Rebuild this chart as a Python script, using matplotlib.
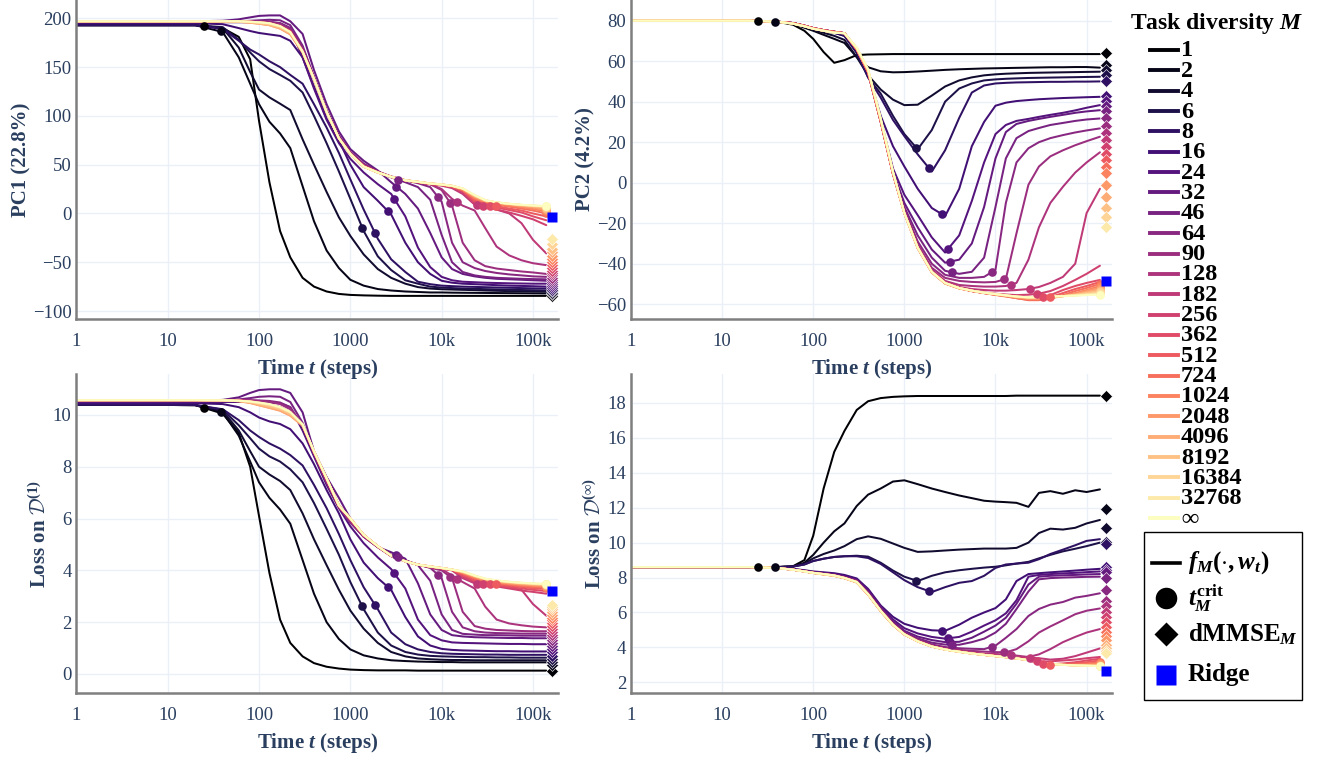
import numpy as np
import matplotlib
matplotlib.use("Agg")
import matplotlib.pyplot as plt
from matplotlib.lines import Line2D
from matplotlib.patches import Rectangle
from matplotlib.ticker import NullLocator

# ---------------------------------------------------------------------------
# Data
# ---------------------------------------------------------------------------
steps = [1, 20, 40, 60, 80, 100, 130, 170, 220, 300, 400, 550, 750, 1000, 1400,
         2000, 2800, 4000, 5500, 7500, 10000, 13000, 17000, 23000, 30000, 40000,
         55000, 75000, 100000, 140000]

labels = ["1", "2", "4", "6", "8", "16", "24", "32", "46", "64", "90", "128",
          "182", "256", "362", "512", "724", "1024", "2048", "4096", "8192",
          "16384", "32768", "∞"]

# critical time t_M^crit for each task diversity (nan = none)
t_crit = [25, 38, np.nan, 1350, 1870, 2560, 3030, 3200, 3330, 9100, 12400, 14700,
          24100, 28300, 33500, 39500, 140000, 140000, 140000, 140000, 140000,
          140000, 140000, 140000]

dmmse_step = 162000
ridge_step = 162000

# PC1 projection, one row per task diversity M (last row: M = inf)
pc1 = [
    [193, 193, 190, 181, 158, 95, 32, -18, -45, -66, -75, -80, -82.5, -83.5, -84, -84.3, -84.5, -84.5, -84.5, -84.5, -84.5, -84.5, -84.5, -84.5, -84.5, -84.5, -84.5, -84.5, -84.5, -84.5],
    [193, 193, 186, 160, 133, 112, 94, 82, 67, 28, -8, -38, -56, -68, -74, -77.5, -79, -80, -80.5, -81, -81, -81.2, -81.3, -81.4, -81.5, -81.6, -81.7, -81.8, -81.9, -82],
    [193, 193, 190, 170, 145, 127, 119, 112.5, 106, 76, 50, 22, -4, -23, -42, -57, -66, -72, -75.5, -77, -77.7, -78, -78.3, -78.6, -79, -79.3, -79.6, -79.8, -80, -80.2],
    [193, 193, 191, 178, 165, 156, 148, 142, 136, 124, 100, 72, 43, 15, -18, -44, -58, -68.5, -72, -75, -76, -76.5, -77, -77.3, -77.6, -77.9, -78.2, -78.5, -78.7, -79],
    [193, 193, 189, 177, 168, 163, 156, 150, 142, 133, 112, 88, 62, 35, 4, -26, -47, -60, -70, -72.5, -74, -74.5, -75, -75.3, -75.6, -75.9, -76.2, -76.5, -76.8, -77],
    [195, 195, 194, 190, 187, 185, 183.5, 182, 177, 160, 130, 97, 75, 50, 27, 13, -1, -30, -50, -62, -69, -71, -72, -72.5, -73, -73.5, -74, -74.3, -74.6, -75],
    [196, 196, 196, 196, 196, 196, 196, 195, 190, 160, 128, 96, 72, 56, 42, 30, 20, -3, -35, -55, -65, -68.5, -70, -70.5, -71, -71.3, -71.6, -71.8, -72, -72],
    [197, 197, 197.5, 199, 201, 202.5, 203, 203, 197, 184, 147, 112, 84, 66, 54, 44, 32, 20, 5, -20, -45, -57, -62, -64.5, -66, -67, -67.5, -68, -68.5, -69],
    [197, 197, 197, 197, 197.5, 198, 198.5, 198, 193, 172, 140, 106, 80, 63, 51, 43, 37, 32, 27, 14, -22, -50, -60, -63.5, -65, -66, -66.5, -67, -67.3, -67.5],
    [197, 197, 197, 197, 197, 197, 196.5, 195, 190, 170, 140, 105, 79, 63, 50.5, 43, 38, 34, 31, 27, 12, -30, -50, -56, -59, -61, -62.5, -63.5, -64.5, -65],
    [197, 197, 197, 197, 197, 196.5, 196, 194, 188, 168, 139, 104, 78, 62, 49.5, 42.5, 37.5, 34, 32, 30, 24, 8, -30, -48, -54, -56.5, -58, -59.5, -60.5, -62],
    [197, 197, 197, 197, 196.5, 196, 195, 192.5, 187, 167, 138.5, 104, 77.5, 61.5, 49, 42.5, 37.5, 34, 32, 30, 25, 15, 8, 3, -15, -34, -43, -48, -51, -53],
    [197, 197, 197, 197, 196.5, 196, 195, 192.5, 187, 167, 138.5, 104, 77.5, 61.5, 49, 42.3, 37.5, 34, 32, 30, 28.5, 26, 20, 9, 6, 4, 0, -10, -27, -41],
    [197, 197, 197, 197, 196.5, 196, 195, 192, 186.5, 166.5, 138, 104, 77.5, 61.5, 48.5, 42.2, 37.5, 34, 32, 30.2, 29, 27, 22, 10, 6.5, 4, 1, -2.5, -6, -12],
    [197, 197, 197, 197, 196.5, 196, 195, 192, 186.5, 166.5, 138, 104, 77.5, 61, 48.5, 42.2, 37.5, 34, 32.2, 30.4, 29.2, 27.3, 23, 12, 8, 6, 3.5, 1, -3, -7],
    [197, 197, 197, 197, 196.5, 196, 195, 192, 186, 166, 138, 104, 77, 61, 48, 42, 37.5, 34, 32.3, 30.5, 29.4, 27.6, 23.5, 13.5, 9.5, 7.5, 5, 3, 0, -3],
    [197, 197, 197, 197, 196.5, 195.5, 194, 191, 185, 165.5, 137.5, 104, 77, 61, 48, 42, 37.5, 34, 32.4, 30.6, 29.5, 28, 24, 15, 11, 9, 7, 5, 3, 0],
    [197, 197, 197, 197, 196, 195, 193.5, 190, 184, 165, 137.5, 104, 77, 61, 48, 42, 37.5, 34, 32.4, 30.7, 29.6, 28.1, 24.5, 16, 12, 10, 8, 6.5, 4.5, 2],
    [197, 197, 197, 196.5, 195.5, 194.5, 193, 189.5, 183.5, 165, 137.5, 104, 77, 61, 48, 42, 37.5, 34, 32.4, 30.7, 29.7, 28.2, 25, 17, 12.5, 10.5, 9, 7.5, 6, 3.5],
    [197, 197, 197, 196.5, 195.5, 194.5, 193, 189.5, 184, 165.5, 138, 104, 77, 61, 48, 42, 37.5, 34, 32.4, 30.7, 29.7, 28.3, 25, 17.5, 13, 11, 9.5, 8, 7, 5],
    [197, 197, 197, 196.8, 196, 195, 193.5, 190.5, 185, 166, 138, 104, 77, 61, 48, 42, 37.5, 34, 32.4, 30.7, 29.7, 28.3, 25.5, 18, 13.3, 11.2, 9.7, 8.5, 7.5, 6],
    [197, 197, 197, 197, 196.3, 195.5, 194.5, 191.5, 185.5, 166, 138, 104, 77, 61, 48, 42, 37.5, 34, 32.4, 30.7, 29.7, 28.3, 25.5, 18.5, 13.5, 11.3, 9.8, 8.7, 8, 7],
    [197, 197, 197, 197, 196.5, 196, 195, 192, 186, 166, 138, 104, 77, 61, 48, 42, 37.5, 34, 32.4, 30.7, 29.7, 28.3, 25.6, 18.7, 13.6, 11.3, 9.9, 8.8, 8.1, 7.3],
    [197, 197, 197, 197, 196.5, 196, 195, 192, 186, 166, 138, 104, 77, 61, 48, 42, 37.5, 34, 32.4, 30.7, 29.7, 28.3, 25.6, 18.8, 13.6, 11.3, 9.9, 8.9, 8.2, 7.5],
]
pc1_dmmse = [-85, -83, -81.5, -80, -78.5, -76.5, -74.5, -72.5, -70.5, -68.5, -66, -63.5, -61, -58.5, -56, -53, -50, -47, -44, -40, -36, -31, -26]

# PC2 projection
pc2 = [
    [80, 80, 79.5, 78, 75, 71, 64.5, 59.2, 60.5, 63, 63.3, 63.4, 63.5, 63.5, 63.5, 63.5, 63.5, 63.5, 63.5, 63.5, 63.5, 63.5, 63.5, 63.5, 63.5, 63.5, 63.5, 63.5, 63.5, 63.5],
    [80, 80, 79.5, 78.5, 76.5, 75, 73, 71, 69, 62, 57, 55, 54.5, 54.6, 54.9, 55.3, 55.7, 56, 56.2, 56.4, 56.5, 56.6, 56.7, 56.8, 56.9, 57, 57, 57.1, 57.1, 56.8],
    [80, 80, 79.5, 78.5, 77, 75.5, 74, 72.5, 70.5, 62, 53, 46, 41, 38.3, 38.5, 43, 47.5, 50.5, 52, 53, 53.5, 53.8, 54, 54.2, 54.3, 54.4, 54.5, 54.6, 54.7, 54.8],
    [80, 80, 79.5, 78.8, 77.5, 76, 75, 74, 72.5, 64, 52, 44, 33, 24, 16.5, 26, 40, 46.5, 49, 50.5, 51, 51.3, 51.5, 51.7, 51.8, 51.9, 52, 52.1, 52.2, 52.3],
    [80, 80, 79.5, 78.8, 77.5, 76, 75, 74, 72.5, 64.5, 52, 42, 31, 23, 14, 5.5, 16, 32, 44.5, 48, 49, 49.3, 49.5, 49.6, 49.7, 49.8, 49.8, 49.9, 49.9, 50],
    [80, 80, 79.5, 78.8, 77.5, 76.3, 75.3, 74.5, 73.5, 65.5, 54, 33, 18, 8, -3, -12.5, -16.5, -3, 18, 30, 38, 39.5, 40.3, 40.8, 41.2, 41.5, 41.8, 42, 42.2, 42.4],
    [80, 80, 79.5, 78.8, 77.5, 76.3, 75.3, 74.5, 73.8, 65.8, 54.5, 31, 7, -6, -16, -27, -34.5, -26, -9, 10, 24, 28.5, 30.5, 31.5, 32.5, 33.5, 34.5, 35.7, 37, 38.3],
    [80, 80, 79.5, 78.8, 77.5, 76.3, 75.3, 74.5, 73.8, 65.8, 54.5, 30.5, 5.5, -10, -22, -33, -39.5, -38, -30, -12, 12, 25, 29, 30.5, 31.5, 32.5, 33.5, 34.5, 35.2, 35.8],
    [80, 80, 79.5, 78.8, 77.5, 76.3, 75.3, 74.5, 73.8, 65.8, 54.5, 30.5, 5, -12, -26, -37, -43.5, -45, -44, -37, -12, 12, 22, 25.5, 27, 28.5, 29.5, 30.5, 31.2, 31.7],
    [80, 80, 79.5, 78.8, 77.5, 76.3, 75.3, 74.5, 73.8, 65.8, 54.5, 30.5, 4.5, -13, -29, -40, -45.5, -47, -47, -46.5, -43, -10, 10, 17, 20, 22, 23.5, 24.8, 25.8, 26.8],
    [80, 80, 79.5, 78.8, 77.5, 76.3, 75.3, 74.5, 73.8, 65.8, 54.5, 30.3, 4.5, -14, -30.5, -42, -47, -48.5, -49, -49.2, -49, -47.5, -25, -1, 8, 13, 16, 18.5, 20.5, 22.7],
    [80, 80, 79.5, 78.8, 77.5, 76.3, 75.3, 74.5, 73.8, 65.8, 54.5, 30.3, 4.5, -14.5, -31, -43, -48.5, -50.5, -51, -51.3, -51.3, -51, -49.5, -38, -22, -10, -2, 5, 10, 15],
    [80, 80, 79.5, 78.8, 77.5, 76.3, 75.3, 74.5, 73.8, 65.8, 54.5, 30.2, 4.5, -14.5, -31.5, -43.5, -49, -51.5, -52.5, -53, -53.3, -53.3, -53, -52.5, -51.5, -49.5, -46.5, -40, -15, -3],
    [80, 80, 79.5, 78.8, 77.5, 76.3, 75.3, 74.5, 73.8, 65.8, 54.5, 30.2, 4.5, -15, -32, -44, -49.5, -52, -53.5, -54.3, -54.8, -55.2, -55.5, -55.3, -54.8, -53.5, -51, -48, -45, -41],
    [80, 80, 79.5, 78.8, 77.5, 76.3, 75.3, 74.5, 73.8, 65.8, 54.5, 30.1, 4.3, -15, -32, -44, -49.5, -52, -53.5, -54.5, -55.2, -55.8, -56.5, -57.5, -57, -55.5, -53, -51, -49.5, -48],
    [80, 80, 79.5, 78.8, 77.5, 76.3, 75.3, 74.5, 73.8, 65.8, 54.5, 30.1, 4.3, -15, -32, -44, -49.5, -52, -53.5, -54.5, -55.3, -56, -57, -57.8, -57.5, -56.5, -54.5, -52.5, -51, -49],
    [80, 80, 79.5, 78.7, 77.4, 76.2, 75.2, 74.4, 73.8, 65.9, 54.7, 30.5, 4.5, -15, -32.2, -44.2, -49.7, -52.2, -53.5, -54.5, -55.4, -56.2, -57, -58, -58, -57, -55.5, -53.5, -52, -50],
    [80, 80, 79.5, 78.6, 77.3, 76.1, 75.1, 74.3, 73.8, 66, 55, 30.8, 4.7, -15, -32.3, -44.3, -49.8, -52.2, -53.4, -54.4, -55.3, -56, -56.8, -57.5, -57.5, -57, -56, -54.5, -53, -51],
    [80, 80, 79.5, 78.6, 77.3, 76, 75, 74.2, 73.8, 66.2, 55.3, 31, 4.8, -15, -32.3, -44.3, -49.8, -52.2, -53.3, -54.3, -55.2, -55.9, -56.6, -57.2, -57.2, -56.8, -56, -55, -53.5, -52],
    [80, 80, 79.5, 78.6, 77.3, 76, 75, 74.2, 73.8, 66.3, 55.5, 31.2, 5, -15, -32.2, -44.2, -49.7, -52.1, -53.3, -54.3, -55.1, -55.8, -56.4, -57, -57, -56.6, -56, -55.2, -54, -52.8],
    [80, 80, 79.5, 78.5, 77.2, 76, 75, 74.1, 73.8, 66.4, 55.7, 31.4, 5.2, -15, -32.1, -44.1, -49.6, -52, -53.3, -54.3, -55, -55.7, -56.3, -56.8, -56.8, -56.4, -56, -55.4, -54.5, -53.5],
    [80, 80, 79.5, 78.5, 77.2, 76, 75, 74.1, 73.8, 66.5, 55.8, 31.5, 5.3, -15, -32, -44, -49.5, -52, -53.3, -54.3, -55, -55.6, -56.2, -56.7, -56.6, -56.3, -56, -55.6, -55, -54.2],
    [80, 80, 79.5, 78.5, 77.2, 76, 75, 74, 73.8, 66.6, 55.9, 31.6, 5.4, -15, -32, -44, -49.5, -52, -53.3, -54.3, -55, -55.6, -56.2, -56.6, -56.5, -56.2, -56, -55.7, -55.3, -54.8],
    [80, 80, 79.5, 78.5, 77.2, 76, 75, 74, 73.8, 66.7, 56, 31.8, 5.5, -15, -32, -44, -49.5, -52, -53.3, -54.3, -55, -55.6, -56.2, -56.6, -56.5, -56.2, -56, -55.8, -55.5, -55.3],
]
pc2_dmmse = [63.8, 58, 55.6, 53.1, 50.3, 42.8, 40.3, 37.8, 35.4, 32.1, 28, 24.7, 21, 17.8, 14.1, 11.2, 7.9, 4.6, -1.2, -6.9, -12.7, -17.1, -22]

# Loss on D^(1)
loss_d1 = [
    [10.4, 10.38, 10.05, 9.3, 8.0, 6.1, 3.9, 2.1, 1.2, 0.68, 0.42, 0.28, 0.21, 0.17, 0.15, 0.14, 0.14, 0.14, 0.13, 0.13, 0.13, 0.13, 0.13, 0.13, 0.13, 0.13, 0.13, 0.13, 0.13, 0.13],
    [10.4, 10.38, 10.1, 9.2, 8.2, 7.4, 6.8, 6.35, 5.8, 4.4, 3.1, 2.0, 1.35, 0.95, 0.72, 0.6, 0.53, 0.5, 0.48, 0.47, 0.46, 0.46, 0.45, 0.45, 0.45, 0.45, 0.45, 0.45, 0.45, 0.45],
    [10.4, 10.38, 10.15, 9.4, 8.6, 8.0, 7.7, 7.45, 7.1, 6.2, 5.2, 4.2, 3.25, 2.45, 1.75, 1.2, 0.85, 0.68, 0.6, 0.57, 0.55, 0.54, 0.54, 0.53, 0.53, 0.53, 0.53, 0.53, 0.53, 0.53],
    [10.4, 10.38, 10.2, 9.6, 9.1, 8.7, 8.4, 8.2, 7.9, 7.4, 6.6, 5.6, 4.6, 3.55, 2.5, 1.6, 1.1, 0.85, 0.75, 0.7, 0.68, 0.67, 0.66, 0.65, 0.65, 0.64, 0.64, 0.63, 0.63, 0.63],
    [10.4, 10.38, 10.22, 9.8, 9.4, 9.15, 8.9, 8.7, 8.45, 8.05, 7.3, 6.4, 5.4, 4.4, 3.35, 2.5, 1.6, 1.15, 0.95, 0.85, 0.8, 0.78, 0.77, 0.76, 0.75, 0.75, 0.74, 0.74, 0.74, 0.74],
    [10.45, 10.45, 10.42, 10.3, 10.1, 9.9, 9.75, 9.65, 9.45, 8.9, 8.1, 7.1, 6.2, 5.2, 4.3, 3.7, 3.25, 2.2, 1.45, 1.1, 0.97, 0.93, 0.91, 0.9, 0.89, 0.88, 0.88, 0.87, 0.87, 0.87],
    [10.5, 10.5, 10.5, 10.5, 10.5, 10.5, 10.48, 10.45, 10.3, 9.4, 8.4, 7.3, 6.4, 5.7, 5.05, 4.5, 4.05, 3.3, 2.1, 1.5, 1.3, 1.22, 1.2, 1.19, 1.18, 1.17, 1.16, 1.16, 1.15, 1.15],
    [10.55, 10.55, 10.58, 10.68, 10.85, 10.96, 10.99, 10.99, 10.85, 10.1, 8.6, 7.6, 6.8, 6.0, 5.35, 4.9, 4.7, 4.45, 3.5, 2.3, 1.7, 1.5, 1.45, 1.42, 1.41, 1.4, 1.39, 1.39, 1.38, 1.38],
    [10.57, 10.57, 10.57, 10.6, 10.65, 10.7, 10.72, 10.7, 10.5, 9.7, 8.5, 7.4, 6.5, 5.85, 5.3, 4.9, 4.6, 4.4, 4.2, 3.6, 2.3, 1.7, 1.55, 1.52, 1.5, 1.5, 1.49, 1.48, 1.48, 1.48],
    [10.57, 10.57, 10.57, 10.57, 10.57, 10.56, 10.54, 10.48, 10.3, 9.6, 8.5, 7.4, 6.45, 5.85, 5.3, 4.9, 4.57, 4.37, 4.23, 4.1, 3.7, 2.4, 1.8, 1.65, 1.6, 1.58, 1.57, 1.56, 1.56, 1.56],
    [10.57, 10.57, 10.57, 10.57, 10.56, 10.54, 10.5, 10.42, 10.22, 9.62, 8.55, 7.45, 6.45, 5.9, 5.3, 4.9, 4.55, 4.35, 4.22, 4.1, 4.0, 3.7, 2.4, 1.85, 1.75, 1.7, 1.68, 1.66, 1.65, 1.65],
    [10.57, 10.57, 10.57, 10.56, 10.53, 10.48, 10.4, 10.3, 10.1, 9.6, 8.55, 7.5, 6.45, 5.95, 5.33, 4.9, 4.55, 4.35, 4.22, 4.12, 4.05, 3.8, 3.55, 3.3, 2.6, 2.1, 1.95, 1.88, 1.83, 1.8],
    [10.57, 10.57, 10.57, 10.56, 10.53, 10.48, 10.4, 10.3, 10.1, 9.6, 8.56, 7.5, 6.47, 5.97, 5.35, 4.92, 4.56, 4.35, 4.22, 4.13, 4.07, 4.0, 3.7, 3.5, 3.45, 3.4, 3.35, 3.25, 2.7, 2.25],
    [10.57, 10.57, 10.57, 10.56, 10.53, 10.47, 10.39, 10.28, 10.08, 9.6, 8.57, 7.52, 6.48, 5.98, 5.36, 4.92, 4.56, 4.35, 4.22, 4.14, 4.08, 4.01, 3.75, 3.55, 3.45, 3.38, 3.3, 3.22, 3.17, 3.1],
    [10.57, 10.57, 10.57, 10.56, 10.52, 10.46, 10.38, 10.27, 10.07, 9.61, 8.58, 7.53, 6.49, 5.99, 5.36, 4.93, 4.57, 4.35, 4.22, 4.14, 4.08, 4.02, 3.8, 3.6, 3.5, 3.42, 3.36, 3.3, 3.25, 3.2],
    [10.57, 10.57, 10.57, 10.55, 10.51, 10.45, 10.37, 10.26, 10.06, 9.62, 8.58, 7.54, 6.5, 6.0, 5.37, 4.93, 4.57, 4.35, 4.22, 4.15, 4.08, 4.02, 3.85, 3.65, 3.53, 3.46, 3.41, 3.36, 3.31, 3.28],
    [10.57, 10.57, 10.57, 10.55, 10.5, 10.43, 10.35, 10.24, 10.05, 9.62, 8.59, 7.55, 6.5, 6.0, 5.37, 4.93, 4.57, 4.35, 4.22, 4.15, 4.09, 4.03, 3.88, 3.7, 3.57, 3.5, 3.45, 3.4, 3.36, 3.33],
    [10.57, 10.57, 10.56, 10.54, 10.48, 10.4, 10.3, 10.2, 10.0, 9.6, 8.58, 7.55, 6.5, 6.0, 5.37, 4.93, 4.57, 4.35, 4.22, 4.15, 4.09, 4.03, 3.9, 3.73, 3.6, 3.53, 3.48, 3.43, 3.4, 3.37],
    [10.57, 10.57, 10.56, 10.53, 10.46, 10.37, 10.27, 10.16, 9.97, 9.58, 8.57, 7.55, 6.5, 6.0, 5.37, 4.93, 4.57, 4.35, 4.22, 4.15, 4.09, 4.03, 3.92, 3.75, 3.63, 3.56, 3.5, 3.46, 3.43, 3.4],
    [10.57, 10.57, 10.56, 10.53, 10.47, 10.38, 10.28, 10.18, 9.98, 9.6, 8.58, 7.55, 6.5, 6.0, 5.37, 4.93, 4.57, 4.35, 4.22, 4.15, 4.09, 4.03, 3.93, 3.77, 3.65, 3.58, 3.52, 3.48, 3.45, 3.42],
    [10.57, 10.57, 10.56, 10.54, 10.49, 10.42, 10.33, 10.22, 10.03, 9.62, 8.59, 7.55, 6.5, 6.0, 5.37, 4.93, 4.57, 4.35, 4.22, 4.15, 4.09, 4.03, 3.94, 3.78, 3.66, 3.59, 3.54, 3.5, 3.47, 3.44],
    [10.57, 10.57, 10.57, 10.55, 10.51, 10.45, 10.38, 10.27, 10.08, 9.63, 8.6, 7.55, 6.5, 6.0, 5.37, 4.93, 4.57, 4.35, 4.22, 4.15, 4.09, 4.03, 3.95, 3.79, 3.67, 3.6, 3.55, 3.51, 3.48, 3.46],
    [10.57, 10.57, 10.57, 10.55, 10.52, 10.47, 10.41, 10.3, 10.11, 9.64, 8.6, 7.55, 6.5, 6.0, 5.37, 4.93, 4.57, 4.35, 4.22, 4.15, 4.09, 4.03, 3.96, 3.8, 3.68, 3.61, 3.56, 3.52, 3.49, 3.47],
    [10.57, 10.57, 10.56, 10.55, 10.52, 10.48, 10.42, 10.3, 10.12, 9.64, 8.6, 7.55, 6.5, 6.0, 5.37, 4.93, 4.57, 4.35, 4.22, 4.15, 4.09, 4.03, 3.96, 3.8, 3.68, 3.61, 3.56, 3.52, 3.5, 3.48],
]
loss_d1_dmmse = [0.12, 0.35, 0.47, 0.58, 0.7, 0.85, 0.97, 1.08, 1.19, 1.3, 1.41, 1.52, 1.63, 1.74, 1.85, 1.96, 2.07, 2.18, 2.29, 2.4, 2.5, 2.6, 2.68]

# Loss on D^(inf)
loss_dinf = [
    [8.6, 8.6, 8.6, 8.65, 9.0, 10.4, 13.1, 15.2, 16.4, 17.6, 18.1, 18.28, 18.35, 18.38, 18.4, 18.4, 18.4, 18.4, 18.4, 18.4, 18.4, 18.4, 18.42, 18.42, 18.42, 18.42, 18.42, 18.42, 18.42, 18.42],
    [8.6, 8.6, 8.6, 8.63, 8.85, 9.3, 10.0, 10.65, 11.1, 12.1, 12.75, 13.1, 13.5, 13.57, 13.35, 13.1, 12.9, 12.7, 12.55, 12.4, 12.35, 12.32, 12.28, 12.05, 12.85, 12.95, 12.8, 13.0, 12.9, 13.05],
    [8.6, 8.6, 8.6, 8.63, 8.8, 9.1, 9.35, 9.55, 9.8, 10.2, 10.36, 10.22, 9.95, 9.7, 9.47, 9.5, 9.55, 9.6, 9.63, 9.66, 9.66, 9.66, 9.7, 10.0, 10.55, 10.8, 10.75, 10.85, 11.1, 11.3],
    [8.6, 8.6, 8.6, 8.63, 8.75, 8.95, 9.08, 9.18, 9.22, 9.25, 9.2, 8.85, 8.4, 8.05, 7.8, 8.1, 8.3, 8.42, 8.5, 8.57, 8.62, 8.7, 8.8, 8.9, 9.1, 9.3, 9.5, 9.65, 9.8, 10.0],
    [8.6, 8.6, 8.6, 8.63, 8.75, 8.95, 9.08, 9.18, 9.22, 9.22, 9.12, 8.78, 8.3, 7.85, 7.45, 7.17, 7.45, 7.7, 7.8, 8.1, 8.55, 8.75, 8.8, 8.85, 9.05, 9.35, 9.6, 9.85, 10.1, 10.2],
    [8.6, 8.6, 8.57, 8.5, 8.42, 8.35, 8.3, 8.25, 8.15, 7.95, 7.35, 6.4, 5.75, 5.35, 5.12, 4.98, 4.95, 5.3, 5.7, 6.0, 6.25, 6.75, 7.8, 8.2, 8.25, 8.3, 8.35, 8.4, 8.45, 8.5],
    [8.6, 8.6, 8.57, 8.48, 8.4, 8.32, 8.27, 8.2, 8.08, 7.88, 7.3, 6.35, 5.6, 5.1, 4.8, 4.6, 4.5, 4.6, 4.9, 5.25, 5.55, 5.95, 6.7, 8.05, 8.15, 8.2, 8.24, 8.27, 8.31, 8.35],
    [8.6, 8.6, 8.56, 8.47, 8.38, 8.3, 8.24, 8.17, 8.05, 7.85, 7.2, 6.3, 5.5, 4.95, 4.62, 4.42, 4.3, 4.32, 4.55, 4.9, 5.25, 5.7, 6.5, 7.6, 8.05, 8.1, 8.13, 8.15, 8.18, 8.2],
    [8.6, 8.6, 8.56, 8.46, 8.37, 8.29, 8.22, 8.15, 8.02, 7.82, 7.15, 6.22, 5.42, 4.87, 4.52, 4.27, 4.16, 4.15, 4.3, 4.5, 4.85, 5.35, 6.2, 7.2, 7.9, 7.97, 8.0, 8.02, 8.04, 8.05],
    [8.6, 8.6, 8.56, 8.46, 8.36, 8.28, 8.21, 8.14, 8.0, 7.8, 7.1, 6.15, 5.37, 4.82, 4.45, 4.17, 4.02, 3.95, 3.92, 3.9, 4.1, 4.55, 5.05, 5.8, 6.2, 6.45, 6.6, 6.85, 6.95, 7.1],
    [8.6, 8.6, 8.55, 8.45, 8.36, 8.28, 8.2, 8.13, 7.99, 7.78, 7.08, 6.13, 5.34, 4.79, 4.4, 4.1, 3.94, 3.86, 3.8, 3.76, 3.73, 3.72, 3.9, 4.35, 4.85, 5.2, 5.55, 5.9, 6.1, 6.23],
    [8.6, 8.6, 8.55, 8.45, 8.35, 8.27, 8.2, 8.12, 7.98, 7.77, 7.07, 6.12, 5.32, 4.77, 4.38, 4.08, 3.91, 3.8, 3.7, 3.65, 3.62, 3.59, 3.53, 3.45, 3.6, 3.9, 4.3, 4.6, 4.85, 5.05],
    [8.6, 8.6, 8.55, 8.45, 8.35, 8.27, 8.2, 8.12, 7.98, 7.76, 7.06, 6.11, 5.31, 4.76, 4.37, 4.07, 3.9, 3.78, 3.68, 3.6, 3.54, 3.48, 3.43, 3.41, 3.38, 3.3, 3.35, 3.5, 3.7, 3.94],
    [8.6, 8.6, 8.55, 8.45, 8.35, 8.27, 8.2, 8.12, 7.98, 7.76, 7.06, 6.11, 5.31, 4.76, 4.36, 4.06, 3.89, 3.77, 3.67, 3.59, 3.52, 3.46, 3.4, 3.3, 3.18, 3.2, 3.25, 3.3, 3.38, 3.45],
    [8.6, 8.6, 8.55, 8.45, 8.35, 8.27, 8.2, 8.12, 7.98, 7.75, 7.05, 6.1, 5.3, 4.75, 4.35, 4.05, 3.88, 3.76, 3.66, 3.58, 3.51, 3.45, 3.38, 3.27, 3.1, 3.03, 3.08, 3.15, 3.25, 3.35],
    [8.6, 8.6, 8.55, 8.45, 8.35, 8.27, 8.2, 8.12, 7.98, 7.75, 7.05, 6.1, 5.3, 4.75, 4.35, 4.05, 3.88, 3.75, 3.65, 3.57, 3.5, 3.44, 3.37, 3.26, 3.12, 3.0, 3.03, 3.08, 3.15, 3.25],
    [8.6, 8.6, 8.55, 8.45, 8.35, 8.27, 8.19, 8.11, 7.97, 7.74, 7.04, 6.09, 5.29, 4.75, 4.35, 4.05, 3.88, 3.75, 3.65, 3.57, 3.5, 3.44, 3.37, 3.27, 3.14, 3.04, 3.0, 3.02, 3.07, 3.15],
    [8.6, 8.6, 8.55, 8.45, 8.35, 8.27, 8.19, 8.11, 7.97, 7.73, 7.03, 6.08, 5.28, 4.74, 4.35, 4.05, 3.88, 3.75, 3.65, 3.57, 3.5, 3.44, 3.37, 3.27, 3.15, 3.05, 3.0, 3.0, 3.02, 3.08],
    [8.6, 8.6, 8.55, 8.45, 8.35, 8.26, 8.18, 8.1, 7.96, 7.72, 7.02, 6.07, 5.27, 4.74, 4.35, 4.05, 3.88, 3.75, 3.65, 3.57, 3.5, 3.44, 3.37, 3.27, 3.15, 3.05, 3.0, 2.98, 2.99, 3.02],
    [8.6, 8.6, 8.55, 8.45, 8.35, 8.26, 8.18, 8.1, 7.96, 7.72, 7.02, 6.07, 5.27, 4.74, 4.35, 4.05, 3.88, 3.75, 3.65, 3.57, 3.5, 3.44, 3.37, 3.27, 3.15, 3.05, 3.0, 2.97, 2.97, 2.98],
    [8.6, 8.6, 8.55, 8.45, 8.35, 8.26, 8.18, 8.1, 7.96, 7.73, 7.03, 6.08, 5.28, 4.74, 4.35, 4.05, 3.88, 3.75, 3.65, 3.57, 3.5, 3.44, 3.37, 3.27, 3.15, 3.05, 3.0, 2.97, 2.96, 2.96],
    [8.6, 8.6, 8.55, 8.45, 8.35, 8.27, 8.19, 8.11, 7.97, 7.74, 7.04, 6.09, 5.29, 4.75, 4.35, 4.05, 3.88, 3.75, 3.65, 3.57, 3.5, 3.44, 3.37, 3.27, 3.15, 3.05, 3.0, 2.97, 2.95, 2.94],
    [8.6, 8.6, 8.55, 8.45, 8.35, 8.27, 8.2, 8.12, 7.98, 7.75, 7.05, 6.1, 5.3, 4.75, 4.35, 4.05, 3.88, 3.75, 3.65, 3.57, 3.5, 3.44, 3.37, 3.27, 3.15, 3.05, 3.0, 2.97, 2.95, 2.93],
    [8.6, 8.6, 8.55, 8.45, 8.35, 8.27, 8.2, 8.12, 7.98, 7.75, 7.05, 6.1, 5.3, 4.75, 4.35, 4.05, 3.88, 3.75, 3.65, 3.57, 3.5, 3.44, 3.37, 3.27, 3.15, 3.05, 3.0, 2.97, 2.95, 2.92],
]
loss_dinf_dmmse = [18.4, 11.95, 10.85, 10.05, 9.95, 8.6, 8.45, 8.3, 7.95, 7.3, 6.65, 6.35, 6.05, 5.75, 5.45, 5.15, 4.9, 4.65, 4.4, 4.15, 3.95, 3.8, 3.65]

ridge = {"pc1": -4.0, "pc2": -48.3, "d1": 3.21, "dinf": 2.67}

# ---------------------------------------------------------------------------
# Styling
# ---------------------------------------------------------------------------
plt.rcParams.update({
    "font.family": ["Liberation Serif", "DejaVu Serif"],
    "mathtext.fontset": "custom",
    "mathtext.rm": "Liberation Serif:bold",
    "mathtext.it": "Liberation Serif:italic:bold",
    "mathtext.bf": "Liberation Serif:bold",
    "mathtext.cal": "cmsy10",
    "axes.unicode_minus": True,
})
TXT = "#2a3f5f"
GRID = "#ebf0f8"
SPINE = "#7f7f7f"

n_series = len(labels)
colors = plt.get_cmap("magma")(np.linspace(0, 1, n_series))

panels = [
    ("pc1", pc1, pc1_dmmse, "PC1 (22.8%)",
     (-108.2, 218.8), [-100, -50, 0, 50, 100, 150, 200]),
    ("pc2", pc2, pc2_dmmse, "PC2 (4.2%)",
     (-67.3, 90.2), [-60, -40, -20, 0, 20, 40, 60, 80]),
    ("d1", loss_d1, loss_d1_dmmse, r"Loss on $\mathcal{D}^{(1)}$",
     (-0.745, 11.58), [0, 2, 4, 6, 8, 10]),
    ("dinf", loss_dinf, loss_dinf_dmmse, r"Loss on $\mathcal{D}^{(\infty)}$",
     (1.37, 19.66), [2, 4, 6, 8, 10, 12, 14, 16, 18]),
]

W, H = 1318, 761
boxes = {
    "pc1": [76.4 / W, 1 - 319 / H, 482 / W, 319 / H],
    "pc2": [631 / W, 1 - 319 / H, 481 / W, 319 / H],
    "d1": [76.4 / W, 1 - 693.3 / H, 482 / W, 319.3 / H],
    "dinf": [631 / W, 1 - 693.3 / H, 481 / W, 319.3 / H],
}

fig = plt.figure(figsize=(W / 100, H / 100), dpi=100)
fig.patch.set_facecolor("white")

log_steps = np.log10(steps)

for key, series, dmmse, ylabel, ylim, yticks in panels:
    ax = fig.add_axes(boxes[key])
    ax.patch.set_facecolor("none")   # keep labels of the row above visible
    ax.set_xscale("log")
    ax.set_xlim(1, 190000)
    ax.set_ylim(*ylim)
    ax.set_xticks([1, 10, 100, 1000, 10000, 100000])
    ax.set_xticklabels(["1", "10", "100", "1000", "10k", "100k"])
    ax.xaxis.set_minor_locator(NullLocator())
    ax.set_yticks(yticks)
    ax.grid(True, color=GRID, lw=1.0)
    ax.set_axisbelow(True)
    for s in ("top", "right"):
        ax.spines[s].set_visible(False)
    for s in ("left", "bottom"):
        ax.spines[s].set_color(SPINE)
        ax.spines[s].set_linewidth(1.8)
    ax.tick_params(axis="both", length=0, labelsize=13.5, colors=TXT)
    ax.tick_params(axis="x", pad=10)
    ax.tick_params(axis="y", pad=3.5)
    ax.set_xlabel(r"Time $t$ (steps)", fontsize=15, fontweight="bold",
                  color=TXT, labelpad=5)
    ax.set_ylabel(ylabel, fontsize=15, fontweight="bold", color=TXT,
                  labelpad=1)

    # training trajectories
    for i, row in enumerate(series):
        ax.plot(steps, row, color=colors[i], lw=1.45, zorder=2 + i * 0.01,
                solid_capstyle="round")

    # critical times
    for i, row in enumerate(series):
        tc = t_crit[i]
        if np.isnan(tc):
            continue
        yc = np.interp(np.log10(tc), log_steps, row)
        ax.plot([tc], [yc], "o", color=colors[i], ms=6.2, mec="none", zorder=4)

    # dMMSE predictors
    for i, val in enumerate(dmmse):
        ax.plot([dmmse_step], [val], "D", color=colors[i], ms=6.2,
                mec="white", mew=0.4, zorder=5)

    # ridge predictor
    ax.plot([ridge_step], [ridge[key]], "s", color="#0000ff", ms=6.5,
            mec="none", zorder=6)


def fx(px):
    return px / W


def fy(py):
    return 1 - py / H


# task-diversity legend
fig.text(fx(1130), fy(23), r"Task diversity $M$", fontsize=17,
         fontweight="bold", ha="left", va="center", color="black")
row_pitch = 20.35
for i, lab in enumerate(labels):
    yc = 50 + i * row_pitch
    fig.add_artist(Line2D([fx(1150), fx(1178)], [fy(yc), fy(yc)],
                          color=colors[i], lw=2.8, transform=fig.transFigure))
    fig.text(fx(1181), fy(yc + 1), lab, fontsize=17.5, fontweight="bold",
             ha="left", va="center", color="black")

# marker legend
fig.add_artist(Rectangle((fx(1144), fy(700)), fx(1302) - fx(1144),
                         fy(532) - fy(700), transform=fig.transFigure,
                         facecolor="white", edgecolor="black", lw=1.0))
key_rows = [563, 598, 634, 675]
fig.add_artist(Line2D([fx(1152), fx(1180)], [fy(563), fy(563)], color="black",
                      lw=2.6, transform=fig.transFigure))
fig.add_artist(Line2D([fx(1166)], [fy(598)], ls="none", marker="o",
                      color="black", ms=15.5, mec="none",
                      transform=fig.transFigure))
fig.add_artist(Line2D([fx(1166)], [fy(634)], ls="none", marker="D",
                      color="black", ms=12.5, mec="none",
                      transform=fig.transFigure))
fig.add_artist(Line2D([fx(1166)], [fy(675)], ls="none", marker="s",
                      color="#0000ff", ms=15, mec="none",
                      transform=fig.transFigure))
key_text = [r"$f_M(\cdot, w_t)$", r"$t_M^{\mathrm{crit}}$", r"dMMSE$_M$",
            "Ridge"]
for yc, txt in zip(key_rows, key_text):
    fig.text(fx(1188), fy(yc), txt, fontsize=18, fontweight="bold",
             ha="left", va="center", color="black")

fig.savefig("out.png", dpi=100, facecolor="white")
